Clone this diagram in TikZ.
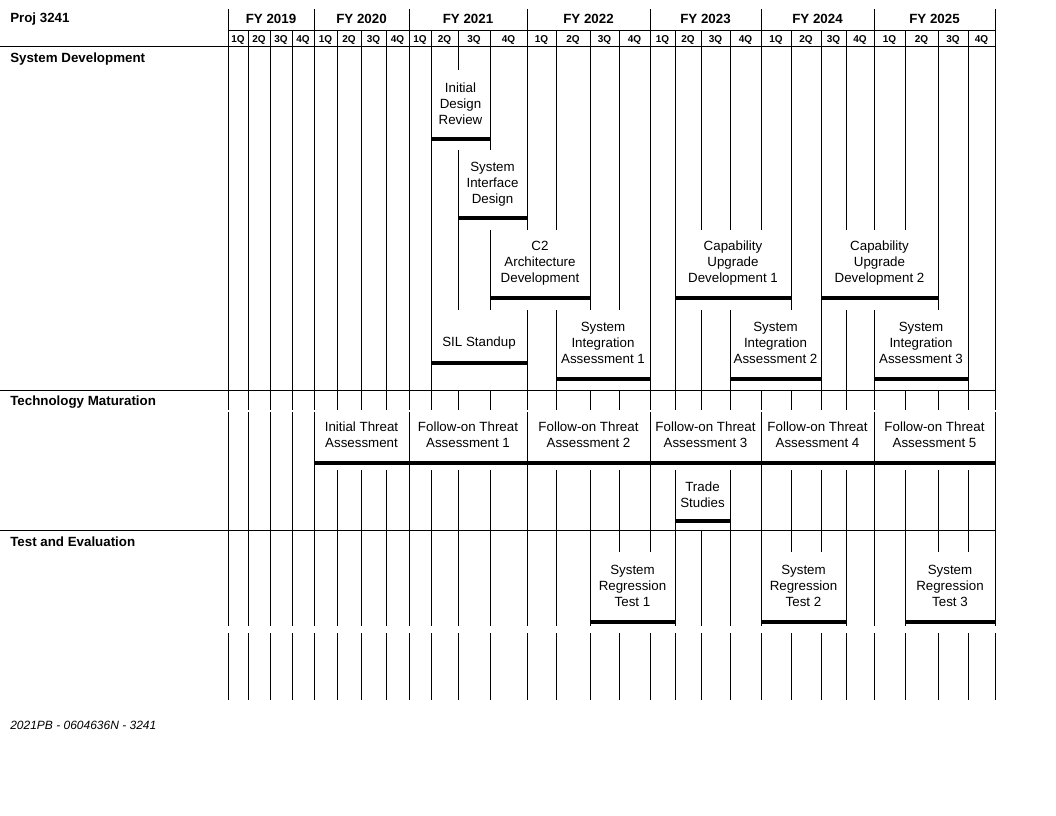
\documentclass[tikz,border=0pt]{standalone}
\usepackage{fontspec}
\setmainfont{Liberation Sans}
\begin{document}
\begin{tikzpicture}[x=0.75pt,y=-0.75pt,
  grid/.style={line width=0.75pt, black},
  bar/.style={line width=2.6pt, black},
  cover/.style={fill=white, draw=none},
  task/.style={font=\fontsize{10}{12}\selectfont, align=center, inner sep=0pt},
  hdr/.style={font=\fontsize{10}{12}\selectfont\bfseries, inner sep=0pt},
  qlab/.style={font=\fontsize{7.5}{8}\selectfont\bfseries, inner sep=0pt},
  foot/.style={font=\fontsize{9}{11}\selectfont\itshape, inner sep=0pt},
]
\useasboundingbox[fill=white] (0,0) rectangle (1056,816);

% fiscal-year boundaries (full height)
\foreach \x in {228,314,409,527,650,761,874,995}
  \draw[grid] (\x,9) -- (\x,700);
% quarter separators
\foreach \x in {248,270,292,337,361,386,431,458,490,556,590,619,675,701,730,791,821,846,905,938,968}
  \draw[grid] (\x,31) -- (\x,700);

% white covers of task boxes (interior gridlines hidden)
\foreach \l/\r/\t/\b in {
  431/490/70/150, 458/527/150/230,
  490/590/230/310, 675/791/230/310, 821/938/230/310,
  431/527/310/390, 556/650/310/390, 730/821/310/390, 874/968/310/390,
  314/409/411/470, 409/527/411/470, 527/650/411/470, 650/761/411/470, 761/874/411/470, 874/995/411/470,
  675/730/470/530,
  590/675/552/626, 761/846/552/626, 905/995/552/626}
  \fill[cover] (\l+0.7,\t) rectangle (\r-0.7,\b);
% row gaps
\fill[cover] (220,409.8) rectangle (1000,411.8);
\fill[cover] (220,626) rectangle (1000,633);

% horizontal rules
\draw[grid] (228,31) -- (995,31);
\draw[grid] (0,47) -- (995,47);
\draw[grid] (0,390) -- (995,390);
\draw[grid] (0,530) -- (995,530);

% header texts
\node[hdr, anchor=west] (proj) at (10,19) {Proj 3241};
\foreach \c/\y in {271/2019,361.5/2020,468/2021,588.5/2022,705.5/2023,817.5/2024,934.5/2025}
  \node[hdr] (fy\y) at (\c,19) {FY \y};
\foreach \a/\b/\q in {228/248/1Q,248/270/2Q,270/292/3Q,292/314/4Q,
  314/337/1Q,337/361/2Q,361/386/3Q,386/409/4Q,
  409/431/1Q,431/458/2Q,458/490/3Q,490/527/4Q,
  527/556/1Q,556/590/2Q,590/619/3Q,619/650/4Q,
  650/675/1Q,675/701/2Q,701/730/3Q,730/761/4Q,
  761/791/1Q,791/821/2Q,821/846/3Q,846/874/4Q,
  874/905/1Q,905/938/2Q,938/968/3Q,968/995/4Q}
  \node[qlab] (q\a) at ({(\a+\b)/2},39.5) {\q};

% section labels
\node[hdr, anchor=west] (sd) at (10,59) {System Development};
\node[hdr, anchor=west] (tm) at (10,402) {Technology Maturation};
\node[hdr, anchor=west] (te) at (10,542) {Test and Evaluation};

% System Development tasks
\node[task] (idr) at (460.5,104) {Initial\\Design\\Review};
\draw[bar] (431,139) -- (490,139);
\node[task] (sid) at (492.5,184) {System\\Interface\\Design};
\draw[bar] (458,218) -- (527,218);
\node[task] (c2) at (540,263) {C2\\Architecture\\Development};
\draw[bar] (490,298) -- (590,298);
\node[task] (cud1) at (733,263) {Capability\\Upgrade\\Development 1};
\draw[bar] (675,298) -- (791,298);
\node[task] (cud2) at (879.5,263) {Capability\\Upgrade\\Development 2};
\draw[bar] (821,298) -- (938,298);
\node[task] (sil) at (479,343) {SIL Standup};
\draw[bar] (431,363) -- (527,363);
\node[task] (sia1) at (603,343) {System\\Integration\\Assessment 1};
\draw[bar] (556,379) -- (650,379);
\node[task] (sia2) at (775.5,343) {System\\Integration\\Assessment 2};
\draw[bar] (730,379) -- (821,379);
\node[task] (sia3) at (921,343) {System\\Integration\\Assessment 3};
\draw[bar] (874,379) -- (968,379);

% Technology Maturation tasks
\node[task] (ita) at (361.5,435) {Initial Threat\\Assessment};
\draw[bar] (314,463) -- (409,463);
\node[task] (fta1) at (468,435) {Follow-on Threat\\Assessment 1};
\draw[bar] (409,463) -- (527,463);
\node[task] (fta2) at (588.5,435) {Follow-on Threat\\Assessment 2};
\draw[bar] (527,463) -- (650,463);
\node[task] (fta3) at (705.5,435) {Follow-on Threat\\Assessment 3};
\draw[bar] (650,463) -- (761,463);
\node[task] (fta4) at (817.5,435) {Follow-on Threat\\Assessment 4};
\draw[bar] (761,463) -- (874,463);
\node[task] (fta5) at (934.5,435) {Follow-on Threat\\Assessment 5};
\draw[bar] (874,463) -- (995,463);
\node[task] (ts) at (702.5,495) {Trade\\Studies};
\draw[bar] (675,521) -- (730,521);

% Test and Evaluation tasks
\node[task] (srt1) at (632.5,586) {System\\Regression\\Test 1};
\draw[bar] (590,622) -- (675,622);
\node[task] (srt2) at (803.5,586) {System\\Regression\\Test 2};
\draw[bar] (761,622) -- (846,622);
\node[task] (srt3) at (950,586) {System\\Regression\\Test 3};
\draw[bar] (905,622) -- (995,622);

% footer
\node[foot, anchor=west] (ft) at (10,725) {2021PB - 0604636N - 3241};
\end{tikzpicture}
\end{document}
